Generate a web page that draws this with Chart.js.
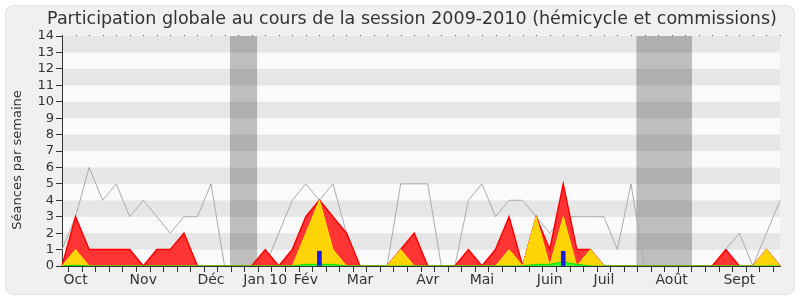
<!DOCTYPE html>
<html>
<head>
<meta charset="utf-8">
<script src="https://cdn.jsdelivr.net/npm/chart.js@4/dist/chart.umd.min.js"></script>
<style>
  body { margin: 0; background: #fff; }
  #wrap { width: 800px; height: 300px; }
</style>
</head>
<body>
<div id="wrap"><canvas id="chart"></canvas></div>
<script>
// Weekly values, session 2009-2010 (54 weeks)
const weekLabels = ['', 'Oct', '', '', '', '', 'Nov', '', '', '', '', 'Déc', '', '', '', 'Jan 10', '', '', 'Fév', '', '', '', 'Mar', '', '', '', '', 'Avr', '', '', '', 'Mai', '', '', '', '', 'Juin', '', '', '', 'Juil', '', '', '', '', 'Août', '', '', '', '', 'Sept', '', '', ''];

const presenceTotal = [1, 3, 6, 4, 5, 3, 4, 3, 2, 3, 3, 5, 0, 0, 0, 0, 2, 4, 5, 4, 5, 2, 0, 0, 0, 5, 5, 5, 0, 0, 4, 5, 3, 4, 4, 3, 2, 3, 3, 3, 3, 1, 5, 0, 0, 0, 0, 0, 0, 1, 2, 0, 2, 4];
const presenceSeances = [0, 3, 1, 1, 1, 1, 0, 1, 1, 2, 0, 0, 0, 0, 0, 1, 0, 1, 3, 4, 3, 2, 0, 0, 0, 1, 2, 0, 0, 0, 1, 0, 1, 3, 0, 3, 1, 5, 1, 1, 0, 0, 0, 0, 0, 0, 0, 0, 0, 1, 0, 0, 1, 0];
const presenceHemicycle = [0, 1, 0, 0, 0, 0, 0, 0, 0, 0, 0, 0, 0, 0, 0, 0, 0, 0, 2, 4, 1, 0, 0, 0, 0, 1, 0, 0, 0, 0, 0, 0, 0, 1, 0, 3, 0, 3, 0, 1, 0, 0, 0, 0, 0, 0, 0, 0, 0, 0, 0, 0, 1, 0];
const interventions = [0, 0.05, 0, 0, 0, 0, 0, 0, 0, 0, 0, 0, 0, 0, 0, 0, 0, 0, 0.1, 0.1, 0.1, 0, 0, 0, 0, 0, 0, 0, 0, 0, 0, 0, 0, 0, 0, 0.1, 0.1, 0.25, 0.1, 0, 0, 0, 0, 0, 0, 0, 0, 0, 0, 0, 0, 0, 0, 0];
const questions = [null, null, null, null, null, null, null, null, null, null, null, null, null, null, null, null, null, null, null, 0.9, null, null, null, null, null, null, null, null, null, null, null, null, null, null, null, null, null, 0.9, null, null, null, null, null, null, null, null, null, null, null, null, null, null, null, null];

// holidays, in week index units
const vacances = [[12.4, 14.4], [42.4, 46.5]];

const titre = 'Participation globale au cours de la session 2009-2010 (hémicycle et commissions)';
const titreAxe = 'Séances par semaine';

const backdrop = {
    id: 'backdrop',
    beforeDraw(chart) {
        const ctx = chart.ctx;
        const { left, right, top, bottom } = chart.chartArea;
        const x = chart.scales.x, y = chart.scales.y;
        ctx.save();
        // outer frame
        ctx.fillStyle = '#ffffff';
        ctx.fillRect(0, 0, chart.width, chart.height);
        ctx.beginPath();
        ctx.roundRect(5.5, 5.5, chart.width - 11, chart.height - 11, 8);
        ctx.fillStyle = '#f0f0f0';
        ctx.fill();
        ctx.strokeStyle = '#e2e2e2';
        ctx.stroke();
        // horizontal bands
        for (let v = 0; v < 14; v++) {
            const y1 = y.getPixelForValue(v + 1), y0 = y.getPixelForValue(v);
            ctx.fillStyle = v % 2 ? '#e6e6e6' : '#fafafa';
            ctx.fillRect(left, y1, right - left, y0 - y1);
        }
        // holidays
        ctx.fillStyle = 'rgba(0,0,0,0.24)';
        vacances.forEach(([a, b]) => {
            const xa = x.getPixelForValue(a), xb = x.getPixelForValue(b);
            ctx.fillRect(xa, top, xb - xa, bottom - top);
        });
        ctx.restore();
    },
    afterDraw(chart) {
        const ctx = chart.ctx;
        const x = chart.scales.x;
        const area = chart.chartArea;
        ctx.save();
        ctx.fillStyle = '#555';
        x.ticks.forEach((t, i) => {
            ctx.fillRect(Math.round(x.getPixelForTick(i)), area.top - 1, 1, 1);
        });
        // titles
        ctx.fillStyle = '#333';
        ctx.textAlign = 'center';
        ctx.textBaseline = 'middle';
        ctx.font = '17.5px "DejaVu Sans"';
        ctx.fillText(titre, 412, 19);
        ctx.translate(18, 160);
        ctx.rotate(-Math.PI / 2);
        ctx.font = '13px "DejaVu Sans"';
        ctx.fillText(titreAxe, 0, 0);
        ctx.restore();
    }
};

new Chart(document.getElementById('chart'), {
    type: 'line',
    data: {
        labels: weekLabels,
        datasets: [
            {
                type: 'bar',
                label: 'Questions',
                data: questions,
                backgroundColor: '#1a1ae0',
                barThickness: 4,
                order: 0
            },
            {
                label: 'Interventions',
                data: interventions,
                borderColor: '#00dd00',
                backgroundColor: '#33ff33',
                borderWidth: 1,
                fill: 'origin',
                pointRadius: 0,
                tension: 0,
                order: 1
            },
            {
                label: 'Hémicycle',
                data: presenceHemicycle,
                borderColor: '#ffe800',
                backgroundColor: '#ffd406',
                borderWidth: 1,
                fill: 'origin',
                pointRadius: 0,
                tension: 0,
                order: 2
            },
            {
                label: 'Séances',
                data: presenceSeances,
                borderColor: '#ff0000',
                backgroundColor: '#ff3535',
                borderWidth: 1.5,
                fill: 'origin',
                pointRadius: 0,
                tension: 0,
                order: 3
            },
            {
                label: 'Total',
                data: presenceTotal,
                borderColor: '#aaaaaa',
                borderWidth: 1,
                fill: false,
                pointRadius: 0,
                tension: 0,
                order: 4
            }
        ]
    },
    options: {
        responsive: true,
        maintainAspectRatio: false,
        animation: false,
        layout: { padding: { left: 0, right: 20, top: 36, bottom: 0 } },
        plugins: {
            legend: { display: false },
            tooltip: { enabled: false },
            title: { display: false }
        },
        scales: {
            x: {
                offset: false,
                grid: { drawOnChartArea: false, tickLength: 6, color: '#333' },
                border: { color: '#333' },
                ticks: {
                    autoSkip: false,
                    maxRotation: 0,
                    padding: 0,
                    color: '#333',
                    font: { family: 'DejaVu Sans', size: 14 }
                },
                afterFit(scale) { scale.height = 34; }
            },
            y: {
                min: 0,
                max: 14,
                grid: { drawOnChartArea: false, tickLength: 6, color: '#333' },
                border: { color: '#333' },
                ticks: {
                    stepSize: 1,
                    autoSkip: false,
                    padding: 2,
                    color: '#333',
                    font: { family: 'DejaVu Sans', size: 13 }
                },
                afterFit(scale) { scale.width = 62; }
            }
        }
    },
    plugins: [backdrop]
});
</script>
</body>
</html>
